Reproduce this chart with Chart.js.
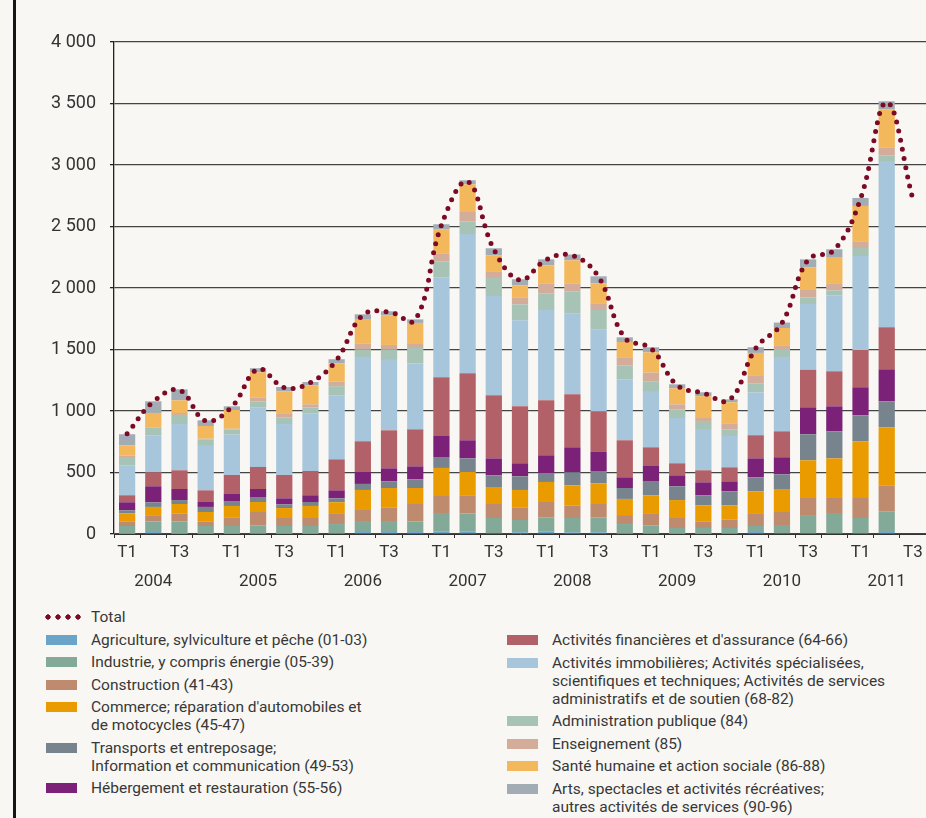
<!DOCTYPE html>
<html lang="fr">
<head>
<meta charset="utf-8">
<title>Emplois par secteur</title>
<script src="https://cdn.jsdelivr.net/npm/chart.js@4.4.1/dist/chart.umd.min.js"></script>
<style>
  html, body { margin: 0; padding: 0; }
  body {
    width: 926px; height: 818px; overflow: hidden; position: relative;
    background: #f8f7f3; font-family: Roboto, 'Liberation Sans', sans-serif; color: #383838;
  }
  .frame { position: absolute; left: 13px; top: 0; bottom: 0; border-left: 3px solid #151515; }
  .chart-box { position: absolute; left: 0; top: 0; width: 926px; height: 594px; }
  .legend { position: absolute; font-size: 15.5px; line-height: 18px; }
  .legend .item { position: relative; padding-left: 45px; margin-bottom: 4.5px; white-space: nowrap; }
  .legend .sw { position: absolute; left: 0; top: 4px; width: 31px; height: 10px; }
  .legend .dots {
    position: absolute; left: -3px; top: 6px; width: 38px; height: 6px;
    background: radial-gradient(circle, #7d0a24 2.4px, transparent 2.9px) 0 0 / 10px 6px repeat-x;
  }
  #legendLeft { left: 46px; top: 608px; }
  #legendRight { left: 500px; top: 631px; padding-left: 7px; }
</style>
</head>
<body>
<div class="frame"></div>
<div class="chart-box"><canvas id="chart"></canvas></div>
<div class="legend" id="legendLeft"></div>
<div class="legend" id="legendRight"></div>

<script>
// --- Data ---
const years = ['2004', '2005', '2006', '2007', '2008', '2009', '2010', '2011'];
const quarterNames = ['T1', 'T2', 'T3', 'T4'];
const quarterCount = 31; // 2004 T1 .. 2011 T3

const agriculture   = [2,16,2,2,2,3,2,2,4,16,16,16,22,22,6,14,22,14,14,3,3,2,2,3,16,8,5,5,5,16];
const industrie     = [63,87,101,63,63,68,63,63,77,82,82,87,141,146,124,100,114,116,122,78,68,47,47,46,49,65,142,158,125,169];
const construction  = [38,44,65,38,71,108,65,65,82,97,119,141,146,147,114,103,124,103,108,73,92,81,54,70,98,106,146,130,163,211];
const commerce      = [65,73,76,76,92,81,81,98,95,163,157,130,228,189,138,141,163,163,168,131,152,146,130,114,184,187,306,322,461,472];
const transports    = [25,38,32,41,40,41,30,32,32,49,54,71,89,111,95,111,73,106,100,89,116,112,82,114,114,119,212,220,211,211];
const hebergement   = [65,130,90,40,57,65,49,55,65,97,106,105,171,147,138,106,144,203,155,87,122,89,105,81,154,139,219,203,228,260];
const financieres   = [57,114,152,95,155,179,190,197,252,250,309,301,477,544,513,463,447,431,331,301,152,98,98,114,188,211,304,285,303,342];
const immobilieres  = [244,301,376,361,328,485,414,467,521,685,572,535,813,1133,807,699,734,658,666,496,450,368,328,255,349,604,536,618,764,1344];
const administration = [67,62,74,51,43,46,55,49,74,63,87,126,130,103,146,130,136,179,157,114,83,68,65,51,70,57,54,40,65,54];
const enseignement  = [11,5,16,8,5,35,27,26,36,48,35,33,65,76,55,57,81,65,55,65,74,43,32,52,63,33,60,52,55,65];
const sante         = [84,114,103,103,152,204,184,155,150,198,241,171,193,225,130,98,146,187,162,124,165,131,177,171,187,146,184,219,287,309];
const arts          = [90,95,89,46,30,33,35,27,33,38,33,29,43,33,57,49,49,47,57,38,41,32,32,24,46,44,65,63,65,65];
const totals        = [815,1075,1170,920,1035,1340,1190,1230,1415,1780,1805,1740,2510,2865,2315,2065,2230,2265,2090,1595,1510,1210,1145,1090,1510,1715,2230,2310,2725,3510,2720];

const yTicks = [0, 500, 1000, 1500, 2000, 2500, 3000, 3500, 4000];

const sectors = [
  { label: 'Agriculture, sylviculture et pêche (01-03)', data: agriculture, color: '#6ba4c9', col: 'left' },
  { label: 'Industrie, y compris énergie (05-39)', data: industrie, color: '#83aa98', col: 'left' },
  { label: 'Construction (41-43)', data: construction, color: '#bf8b6f', col: 'left' },
  { label: "Commerce; réparation d'automobiles et<br>de motocycles (45-47)", data: commerce, color: '#e99b00', col: 'left' },
  { label: 'Transports et entreposage;<br>Information et communication (49-53)', data: transports, color: '#77838d', col: 'left' },
  { label: 'Hébergement et restauration (55-56)', data: hebergement, color: '#7b2178', col: 'left' },
  { label: "Activités financières et d'assurance (64-66)", data: financieres, color: '#b36168', col: 'right' },
  { label: 'Activités immobilières; Activités spécialisées,<br>scientifiques et techniques; Activités de services<br>administratifs et de soutien (68-82)', data: immobilieres, color: '#a7c6dc', col: 'right' },
  { label: 'Administration publique (84)', data: administration, color: '#a7c3b5', col: 'right' },
  { label: 'Enseignement (85)', data: enseignement, color: '#d3ad99', col: 'right' },
  { label: 'Santé humaine et action sociale (86-88)', data: sante, color: '#f2b85b', col: 'right' },
  { label: 'Arts, spectacles et activités récréatives;<br>autres activités de services (90-96)', data: arts, color: '#a2acb5', col: 'right' }
];

// two-line tick labels: quarter on first line, year under T2
const labels = [];
for (let i = 0; i < quarterCount; i++) {
  const q = i % 4;
  const year = years[Math.floor(i / 4)];
  const top = (q === 0 || q === 2) ? quarterNames[q] : '';
  labels.push([top, q === 1 ? year : '']);
}

function fmt(v) {
  return String(v).replace(/\B(?=(\d{3})+(?!\d))/g, ' ');
}

const datasets = sectors.map(s => ({
  type: 'bar',
  label: s.label,
  data: s.data,
  backgroundColor: s.color,
  borderWidth: 0,
  stack: 'sectors',
  order: 1,
  categoryPercentage: 1,
  barPercentage: 0.62
}));

datasets.push({
  type: 'line',
  label: 'Total',
  data: totals,
  stack: 'total',
  order: 0,
  borderColor: '#7d0a24',
  borderWidth: 5,
  borderDash: [0, 9.3],
  borderCapStyle: 'round',
  pointRadius: 0,
  tension: 0.4,
  fill: false
});

new Chart(document.getElementById('chart'), {
  data: { labels, datasets },
  options: {
    responsive: true,
    maintainAspectRatio: false,
    animation: false,
    layout: { padding: { top: 42, right: 0, bottom: 0, left: 0 } },
    plugins: { legend: { display: false }, tooltip: { enabled: false } },
    scales: {
      x: {
        stacked: true,
        afterFit: scale => { scale.height = 60; },
        grid: { drawOnChartArea: false, offset: true, tickLength: 4, color: '#333', lineWidth: 1 },
        border: { display: true, color: '#333', width: 1 },
        ticks: {
          autoSkip: false, maxRotation: 0, padding: 0,
          color: '#333', font: { family: 'Roboto', size: 17, lineHeight: 1.72 }
        }
      },
      y: {
        stacked: true,
        min: 0, max: 4000,
        afterFit: scale => { scale.width = 114; },
        afterBuildTicks: scale => { scale.ticks = yTicks.map(v => ({ value: v })); },
        grid: { color: '#444', lineWidth: 1.3, tickLength: 4, tickColor: '#222' },
        border: { display: true, color: '#222', width: 1.3 },
        ticks: {
          padding: 14, color: '#333',
          font: { family: 'Roboto', size: 18 },
          callback: v => fmt(v)
        }
      }
    }
  }
});

// --- HTML legend ---
const left = document.getElementById('legendLeft');
const right = document.getElementById('legendRight');
left.innerHTML = '<div class="item"><span class="dots"></span>Total</div>';
sectors.forEach(s => {
  const html = `<div class="item"><span class="sw" style="background:${s.color}"></span>${s.label}</div>`;
  (s.col === 'left' ? left : right).insertAdjacentHTML('beforeend', html);
});
</script>
</body>
</html>
